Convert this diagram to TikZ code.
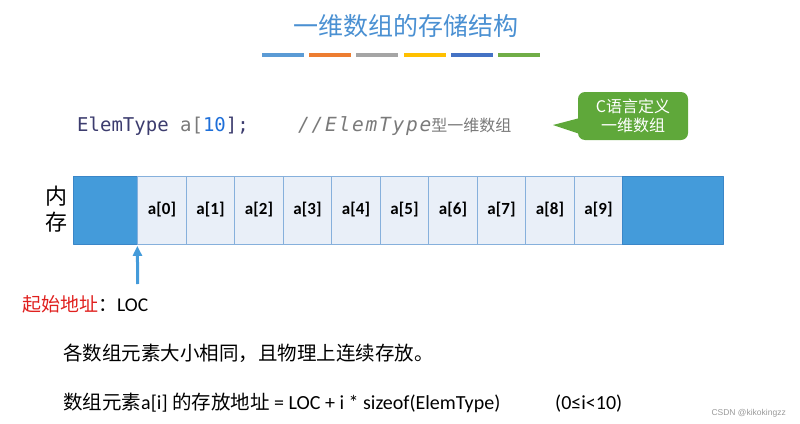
\documentclass[tikz,border=0pt]{standalone}
\usepackage{fontspec}
\setmainfont{Carlito}
\newfontfamily\cjk{Noto Sans CJK SC}
\newfontfamily\codefont{DejaVu Sans Mono}
\newfontfamily\codeit[LetterSpace=9]{DejaVu Sans Mono}
\newfontfamily\marksf{Liberation Sans}
\usetikzlibrary{arrows.meta}

\definecolor{titleblue}{HTML}{4A90D2}
\definecolor{memblue}{HTML}{449BDA}
\definecolor{memedge}{HTML}{3A86C8}
\definecolor{cellfill}{HTML}{E9EFF8}
\definecolor{celledge}{HTML}{86B0DC}
\definecolor{calloutgreen}{HTML}{5FA83A}
\definecolor{codenavy}{HTML}{3C3C6E}
\definecolor{codegray}{HTML}{7A7A7A}
\definecolor{codeblue}{HTML}{1E6FD9}
\definecolor{locred}{HTML}{E0201E}
\definecolor{barA}{HTML}{5B9BD5}
\definecolor{barB}{HTML}{ED7D31}
\definecolor{barC}{HTML}{A5A5A5}
\definecolor{barD}{HTML}{FFC000}
\definecolor{barE}{HTML}{4472C4}
\definecolor{barF}{HTML}{70AD47}

\begin{document}
\begin{tikzpicture}[x=1pt, y=-1pt, line join=round,
  cell/.style={draw=celledge, fill=cellfill, line width=0.8pt, minimum width=48.5pt,
    minimum height=68pt, inner sep=0pt, font=\bfseries\fontsize{17}{20}\selectfont},
  memblock/.style={draw=memedge, fill=memblue, line width=0.8pt, minimum height=68pt, inner sep=0pt}]
  \useasboundingbox (0,0) rectangle (800,423);

  % --- 标题 ---
  \node[font=\cjk\fontsize{25}{30}\selectfont, text=titleblue] (title) at (405.5,26) {一维数组的存储结构};
  \foreach \c [count=\k from 0] in {barA,barB,barC,barD,barE,barF}
    \fill[\c] (261.7+\k*47.3,53.4) rectangle ++(42,4);

  % --- 代码行 ---
  \node[anchor=base west, inner sep=0pt, font=\codefont\fontsize{19}{23}\selectfont] (decl) at (77,131.5)
    {\textcolor{codenavy}{ElemType} \textcolor{codegray}{a[}\textcolor{codeblue}{10}\textcolor{codenavy}{];}};
  \node[anchor=base west, inner sep=0pt, text=codegray] (comment) at (298,131.5)
    {{\codeit\fontsize{19.5}{23}\selectfont\itshape //ElemType}{\cjk\fontsize{16}{20}\selectfont 型一维数组}};

  % --- 提示框 ---
  \node[fill=calloutgreen, rounded corners=7pt, minimum width=110pt, minimum height=48pt,
    text=white, align=center, font=\cjk\fontsize{16}{19}\selectfont] (callout) at (633,116) {C语言定义\\一维数组};
  \coordinate (tip) at (553,125);
  \fill[calloutgreen] ([xshift=2pt,yshift=-2pt]callout.west) -- (tip) -- ([xshift=2pt,yshift=-18pt]callout.west) -- cycle;

  % --- 内存 ---
  \node[font=\cjk\fontsize{22}{26}\selectfont, align=center, inner sep=0pt] (memlabel) at (56,209) {内\\存};
  \node[memblock, minimum width=64.4pt] (memL) at (105.5,210) {};
  \foreach \i in {0,...,9}
    \node[cell] (c\i) at (162+48.5*\i,210) {a[\i]};
  \node[memblock, minimum width=100.6pt] (memR) at (673,210) {};

  % --- 起始地址 ---
  \coordinate (loc) at (137.7,284);
  \draw[memblue, line width=3pt, -{Triangle[width=9pt,length=10pt]}] (loc) -- ([yshift=-1.5pt]c0.south west);
  \node[anchor=base west, inner sep=0pt] (start) at (22,311.5)
    {{\cjk\fontsize{19}{22}\selectfont\textcolor{locred}{起始地址}：}{\fontsize{19.5}{22}\selectfont LOC}};

  % --- 说明 ---
  \node[anchor=base west, inner sep=0pt, font=\cjk\fontsize{19.5}{22}\selectfont] (note1) at (63,360)
    {各数组元素大小相同，且物理上连续存放。};
  \node[anchor=base west, inner sep=0pt, font=\fontsize{20}{22}\selectfont] (note2) at (63,409.5)
    {{\cjk\fontsize{19.5}{22}\selectfont 数组元素}a[i] {\cjk\fontsize{19.5}{22}\selectfont 的存放地址} = LOC + i * sizeof(ElemType)};
  \node[anchor=base west, inner sep=0pt, font=\fontsize{20}{22}\selectfont] (range) at (555,409.5) {(0≤i<10)};
  \node[anchor=base east, inner sep=0pt, text=black!40, font=\marksf\fontsize{8.5}{10}\selectfont] (mark) at (786,415) {CSDN @kikokingzz};
\end{tikzpicture}
\end{document}
